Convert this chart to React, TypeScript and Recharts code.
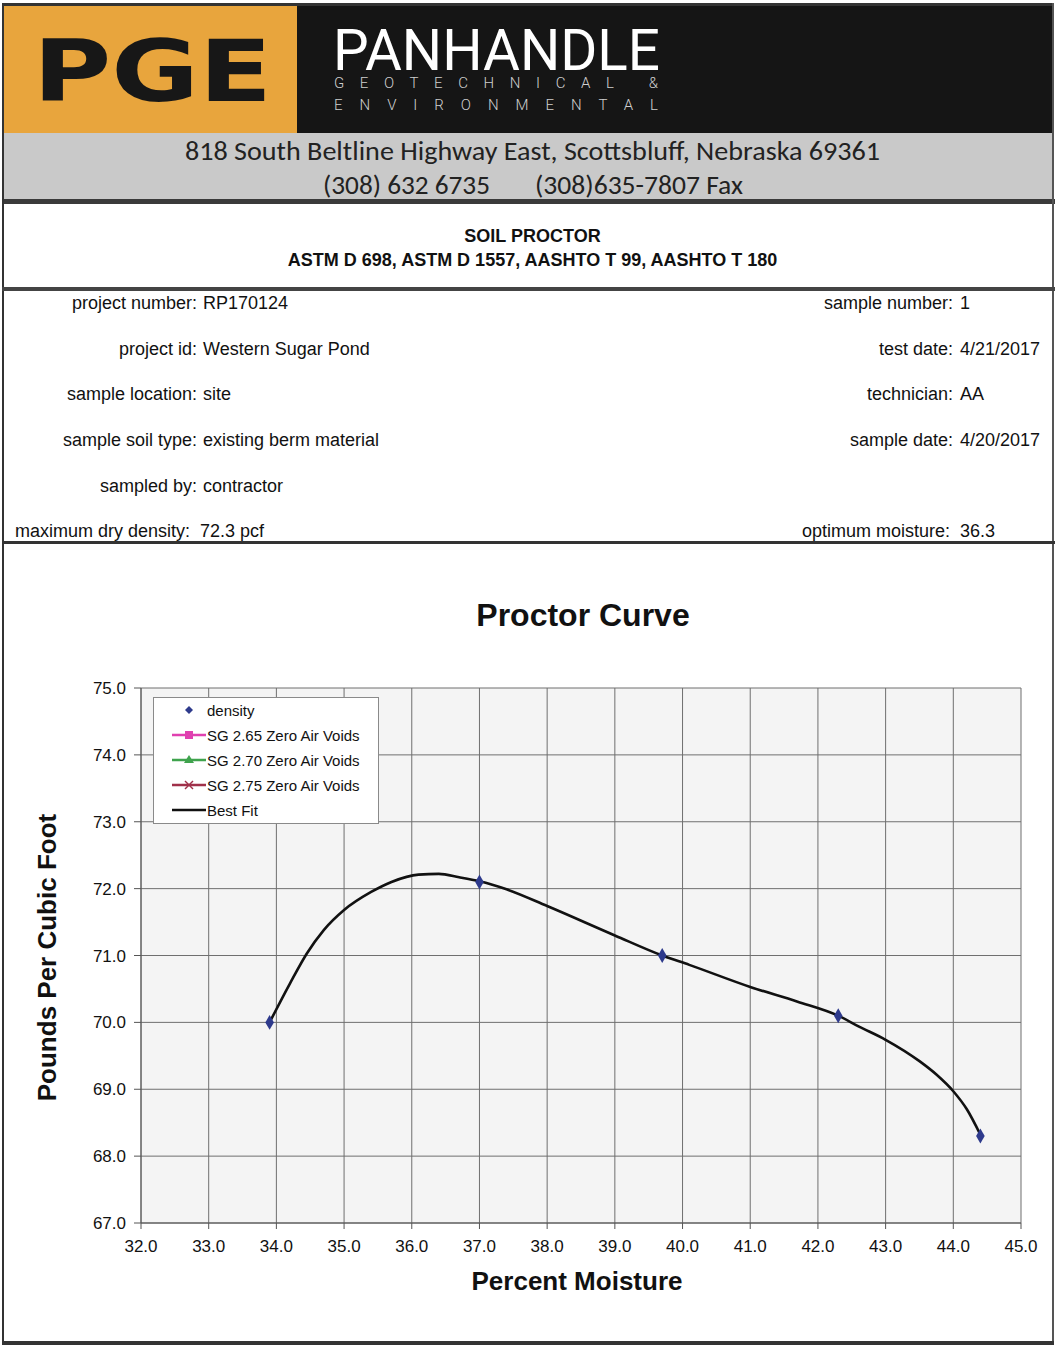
import { ComposedChart, Line, Scatter, XAxis, YAxis, CartesianGrid, Legend } from 'recharts';

const xTicks = [32, 33, 34, 35, 36, 37, 38, 39, 40, 41, 42, 43, 44, 45];
const yTicks = [67, 68, 69, 70, 71, 72, 73, 74, 75];

// measured density points
const densityX = [33.9, 37.0, 39.7, 42.3, 44.4];
const densityY = [70.0, 72.1, 71.0, 70.1, 68.3];

// best fit curve
const fitX = [33.9, 34.2, 34.45, 34.7, 35.0, 35.4, 35.7, 36.1, 36.4, 36.7, 37.0, 37.4, 38.0, 39.0, 39.7, 40.1, 41.0, 41.7, 42.3, 42.6, 43.0, 43.5, 43.75, 44.0, 44.2, 44.4];
const fitY = [70.0, 70.58, 71.03, 71.38, 71.68, 71.95, 72.1, 72.21, 72.22, 72.17, 72.11, 71.99, 71.74, 71.3, 71.0, 70.86, 70.53, 70.31, 70.1, 69.94, 69.74, 69.42, 69.22, 68.97, 68.7, 68.32];

const legendLabels = ['density', 'SG 2.65 Zero Air Voids', 'SG 2.70 Zero Air Voids', 'SG 2.75 Zero Air Voids', 'Best Fit'];
const legendColors = ['#2E3A8C', '#E040B0', '#3FA34D', '#A0304A', '#111111'];
const legendMarks = ['diamond', 'square', 'triangle', 'cross', 'none'];

const leftFields = [
  ['project number:', 'RP170124'],
  ['project id:', 'Western Sugar Pond'],
  ['sample location:', 'site'],
  ['sample soil type:', 'existing berm material'],
  ['sampled by:', 'contractor'],
];
const rightFields = [
  ['sample number:', '1'],
  ['test date:', '4/21/2017'],
  ['technician:', 'AA'],
  ['sample date:', '4/20/2017'],
];
const rowTops = [303, 349, 394, 440, 486];

const density = densityX.map((x, i) => ({ x, y: densityY[i] }));
const fit = fitX.map((x, i) => ({ x, y: fitY[i] }));

const narrow = '"Liberation Sans Narrow", "Arial Narrow", "Liberation Sans", Arial, sans-serif';
const arial = '"Liberation Sans", Arial, sans-serif';
const calibri = 'Carlito, Lato, "Open Sans", sans-serif';

function LegendBox() {
  return (
    <div
      style={{
        width: 224,
        height: 125,
        background: '#fff',
        border: '1px solid #8a8a8a',
        fontFamily: arial,
        fontSize: 15,
        color: '#111',
        position: 'relative',
      }}
    >
      {legendLabels.map((label, i) => {
        const c = legendColors[i];
        const m = legendMarks[i];
        return (
          <div key={label} style={{ position: 'absolute', left: 0, top: 2 + i * 25, height: 20, display: 'flex', alignItems: 'center' }}>
            <svg width={52} height={20}>
              {m !== 'diamond' && <line x1={18} x2={52} y1={10} y2={10} stroke={c} strokeWidth={2.5} />}
              {m === 'diamond' && <polygon points="35,6 39,10 35,14 31,10" fill={c} />}
              {m === 'square' && <rect x={31} y={6} width={8} height={8} fill={c} />}
              {m === 'triangle' && <polygon points="35,5 40,13 30,13" fill={c} />}
              {m === 'cross' && (
                <g stroke={c} strokeWidth={1.5}>
                  <line x1={31} y1={6} x2={39} y2={14} />
                  <line x1={39} y1={6} x2={31} y2={14} />
                </g>
              )}
            </svg>
            <span style={{ marginLeft: 1, whiteSpace: 'nowrap' }}>{label}</span>
          </div>
        );
      })}
    </div>
  );
}

export default function App() {
  return (
    <div style={{ position: 'relative', width: 1055, height: 1346, background: '#fff', overflow: 'hidden', fontFamily: arial }}>
      <style>{'body{margin:0}'}</style>

      {/* letterhead */}
      <svg width={1055} height={206} style={{ position: 'absolute', left: 0, top: 0 }}>
        <rect x={0} y={0} width={1055} height={206} fill="#fff" />
        <rect x={3} y={3} width={1050} height={3} fill="#333" />
        <rect x={4} y={6} width={293} height={127} fill="#E8A53D" />
        <rect x={297} y={6} width={756} height={127} fill="#151515" />
        <text x={33} y={101} fontFamily='"DejaVu Sans", sans-serif' fontWeight={900} fontSize={86} fill="#171717" textLength={239} lengthAdjust="spacingAndGlyphs">PGE</text>
        <text x={333} y={70} fontFamily='Roboto, "Open Sans", sans-serif' fontSize={58} fill="#fff" textLength={327} lengthAdjust="spacingAndGlyphs">PANHANDLE</text>
        <text x={334} y={88} fontFamily='Roboto, sans-serif' fontWeight={300} fontSize={15} fill="#cfcfcf" textLength={324} lengthAdjust="spacing">GEOTECHNICAL &amp;</text>
        <text x={334} y={110} fontFamily='Roboto, sans-serif' fontWeight={300} fontSize={15} fill="#cfcfcf" textLength={324} lengthAdjust="spacing">ENVIRONMENTAL</text>
        <rect x={3} y={133} width={1050} height={67} fill="#C9C9C9" />
        <text x={185} y={160} fontFamily={calibri} fontSize={26} fill="#222" textLength={695} lengthAdjust="spacingAndGlyphs">818 South Beltline Highway East, Scottsbluff, Nebraska  69361</text>
        <text x={323} y={194} fontFamily={calibri} fontSize={26} fill="#222" textLength={167} lengthAdjust="spacingAndGlyphs">(308) 632 6735</text>
        <text x={535} y={194} fontFamily={calibri} fontSize={26} fill="#222" textLength={208} lengthAdjust="spacingAndGlyphs">(308)635-7807 Fax</text>
        <rect x={3} y={199} width={1052} height={5} fill="#3a3a3a" />
      </svg>

      {/* page frame */}
      <div style={{ position: 'absolute', left: 2, top: 3, width: 2, height: 1341, background: '#333' }} />
      <div style={{ position: 'absolute', left: 1052, top: 3, width: 2, height: 1341, background: '#555' }} />
      <div style={{ position: 'absolute', left: 2, top: 1341, width: 1052, height: 4, background: '#333' }} />

      {/* title block */}
      <div style={{ position: 'absolute', left: 0, width: 1065, top: 224, textAlign: 'center', fontFamily: narrow, fontWeight: 700, fontSize: 18, lineHeight: '24px', color: '#111' }}>
        <div>SOIL PROCTOR</div>
        <div>ASTM D 698, ASTM D 1557, AASHTO T 99, AASHTO T 180</div>
      </div>
      <div style={{ position: 'absolute', left: 2, top: 287, width: 1053, height: 4, background: '#444' }} />

      {/* sample info */}
      {leftFields.map(([k, v], i) => (
        <div key={k} style={{ position: 'absolute', top: rowTops[i] - 11, left: 0, fontFamily: narrow, fontSize: 18, color: '#111', lineHeight: '22px' }}>
          <span style={{ position: 'absolute', right: -197, whiteSpace: 'nowrap' }}>{k}</span>
          <span style={{ position: 'absolute', left: 203, whiteSpace: 'nowrap' }}>{v}</span>
        </div>
      ))}
      {rightFields.map(([k, v], i) => (
        <div key={k} style={{ position: 'absolute', top: rowTops[i] - 11, left: 0, fontFamily: narrow, fontSize: 18, color: '#111', lineHeight: '22px' }}>
          <span style={{ position: 'absolute', right: -953, whiteSpace: 'nowrap' }}>{k}</span>
          <span style={{ position: 'absolute', left: 960, whiteSpace: 'nowrap' }}>{v}</span>
        </div>
      ))}
      <div style={{ position: 'absolute', top: 520, left: 15, fontFamily: narrow, fontSize: 18, color: '#111', lineHeight: '22px', whiteSpace: 'nowrap' }}>
        maximum dry density:&nbsp; 72.3 pcf
      </div>
      <div style={{ position: 'absolute', top: 520, left: 802, fontFamily: narrow, fontSize: 18, color: '#111', lineHeight: '22px', whiteSpace: 'nowrap' }}>
        optimum moisture:&nbsp; 36.3
      </div>
      <div style={{ position: 'absolute', top: 541, left: 2, width: 1053, height: 3, background: '#333' }} />

      {/* chart titles */}
      <div style={{ position: 'absolute', top: 597, left: 383, width: 400, textAlign: 'center', fontWeight: 700, fontSize: 32, color: '#111' }}>Proctor Curve</div>
      <div style={{ position: 'absolute', top: 1266, left: 377, width: 400, textAlign: 'center', fontWeight: 700, fontSize: 26, color: '#111' }}>Percent Moisture</div>
      <div style={{ position: 'absolute', top: 942, left: -153, width: 400, textAlign: 'center', fontWeight: 700, fontSize: 26, color: '#111', transform: 'rotate(-90deg)' }}>Pounds Per Cubic Foot</div>

      <div style={{ position: 'absolute', top: 550, left: 0 }}>
        <ComposedChart width={1055} height={790} margin={{ top: 138, right: 34, left: 81, bottom: 87 }}>
          <CartesianGrid stroke="#6f6f6f" strokeWidth={1} fill="#F4F4F4" horizontalValues={yTicks} verticalValues={xTicks} />
          <XAxis
            type="number"
            dataKey="x"
            domain={[32, 45]}
            ticks={xTicks}
            tickFormatter={(v) => v.toFixed(1)}
            stroke="#555"
            tick={{ fill: '#111', fontSize: 17, fontFamily: arial }}
            tickSize={6}
            tickMargin={11}
            height={30}
            allowDataOverflow
          />
          <YAxis
            type="number"
            dataKey="y"
            domain={[67, 75]}
            ticks={yTicks}
            tickFormatter={(v) => v.toFixed(1)}
            stroke="#555"
            tick={{ fill: '#111', fontSize: 17, fontFamily: arial }}
            tickSize={7}
            tickMargin={8}
            width={60}
            allowDataOverflow
          />
          <Legend
            layout="vertical"
            align="center"
            verticalAlign="middle"
            wrapperStyle={{ left: 153, top: 147, width: 226 }}
            content={() => <LegendBox />}
          />
          <Line
            data={fit}
            dataKey="y"
            type="monotone"
            stroke="#111"
            strokeWidth={2.6}
            dot={false}
            isAnimationActive={false}
          />
          <Scatter data={density} dataKey="y" fill="#2E3A8C" shape="diamond" isAnimationActive={false} />
        </ComposedChart>
      </div>
    </div>
  );
}
